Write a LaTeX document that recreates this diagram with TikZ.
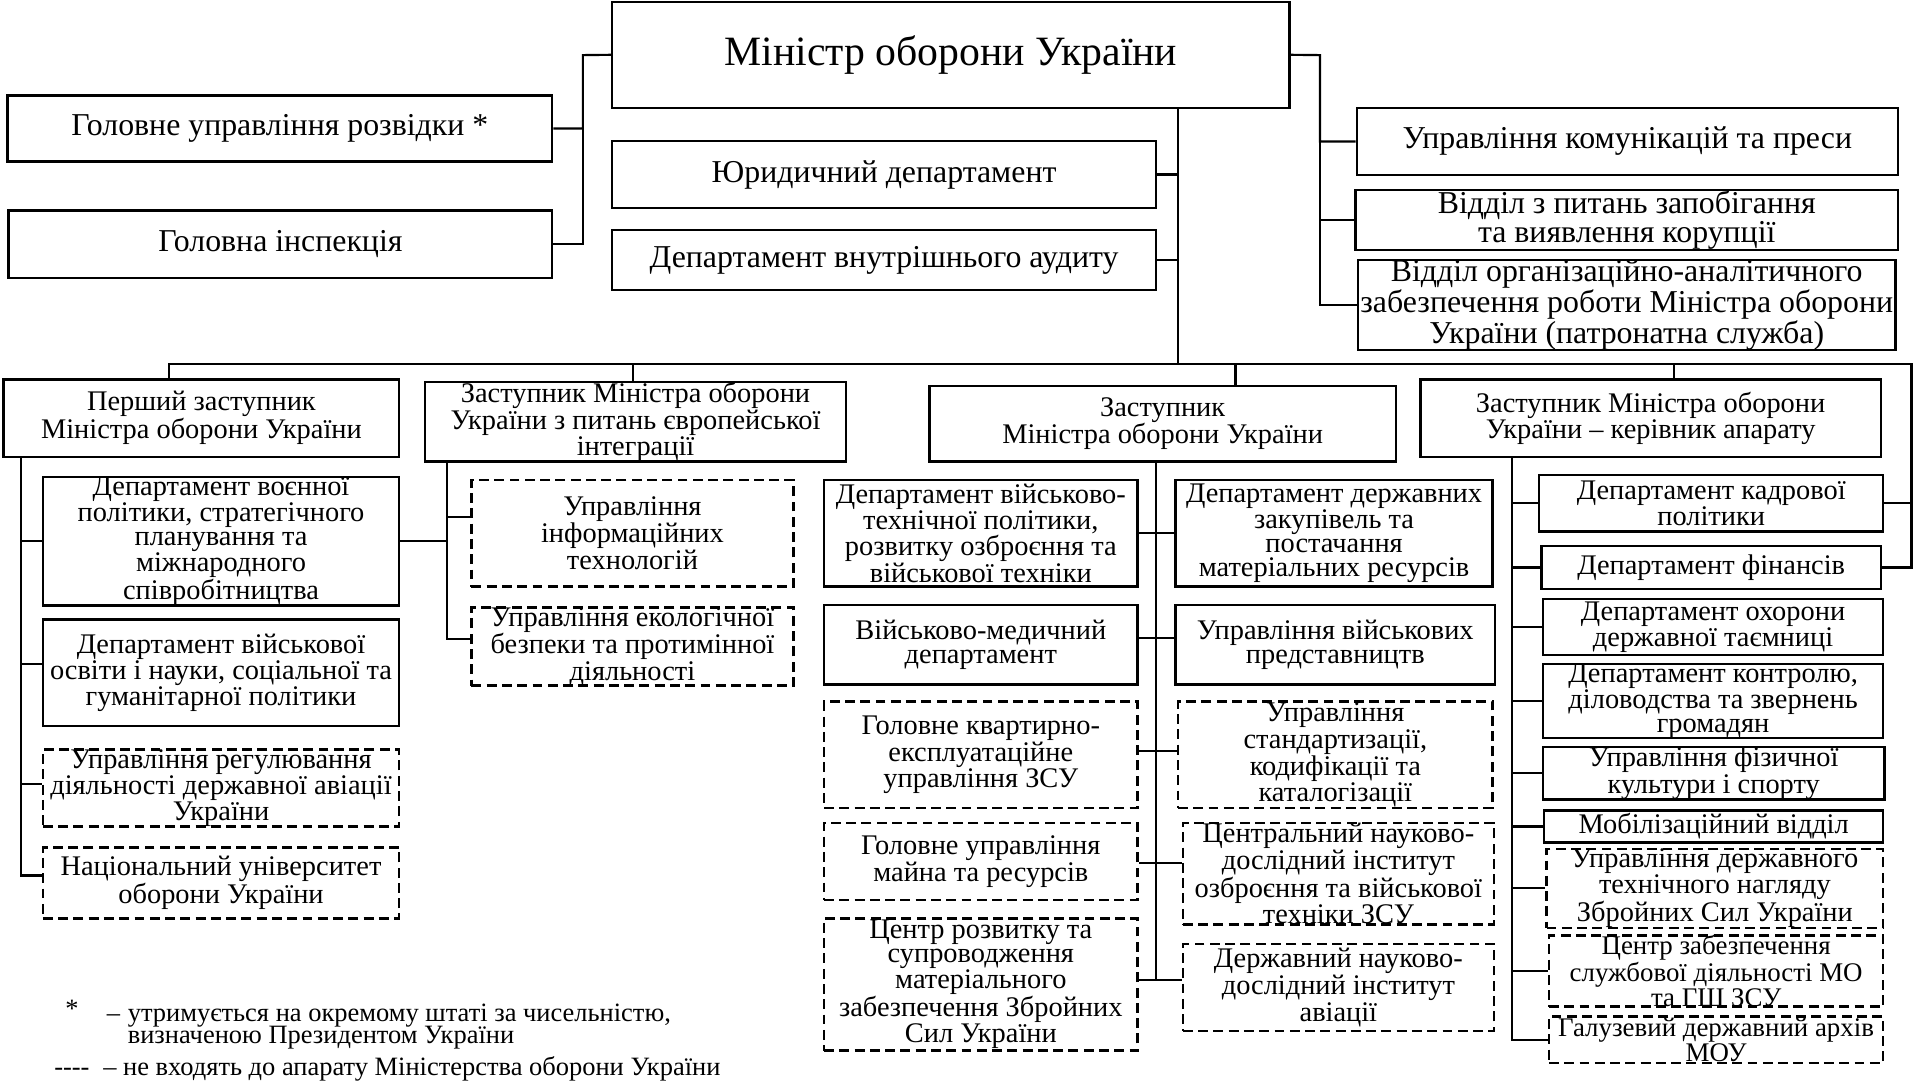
\documentclass[tikz,border=0pt]{standalone}
\usepackage{fontspec}
\setmainfont{Liberation Serif}
\lineskiplimit=0pt
\lineskip=0.6pt
\tikzset{box/.style = {draw, line width=1.1pt, align=center, inner sep=0pt,
                       font=\fontsize{13.2}{11}\selectfont},
         topbox/.style = {box, font=\fontsize{14.8}{12.2}\selectfont},
         dbox/.style = {box, dash pattern=on 4.6pt off 2.5pt},
         small/.style = {font=\fontsize{12.5}{10.5}\selectfont},
         link/.style = {line width=1pt},
         legend/.style = {inner sep=0pt, font=\fontsize{12.3}{10.2}\selectfont}}
% box given by its corners: [style]{name}{x1}{y1}{x2}{y2}{text}
\newcommand{\orgbox}[7][]{%
  \node[box, #1, minimum width={(#5-#3)*0.02cm}, minimum height={(#6-#4)*0.02cm}]
    (#2) at ({(#3+#5)/2}, {(#4+#6)/2}) {#7};}

\begin{document}
\begin{tikzpicture}[x=0.02cm, y=-0.02cm]
    \useasboundingbox (0,0) rectangle (1568,889.3);
    % minister and the units under him
    \orgbox[font=\fontsize{19.4}{22}\selectfont]{min}{500}{1.5}{1053}{88}{Міністр оборони України}
    \orgbox[topbox]{gur}{6}{78}{451}{132}{Головне управління розвідки *}
    \orgbox[topbox]{insp}{7}{172}{451}{227}{Головна інспекція}
    \orgbox[topbox]{jur}{500}{115}{944}{170}{Юридичний департамент}
    \orgbox[topbox]{audit}{500}{188}{944}{237}{Департамент внутрішнього аудиту}
    \orgbox[topbox]{comm}{1108}{88}{1550}{143}{Управління комунікацій та преси}
    \orgbox[topbox]{corr}{1107}{155}{1550}{204}{Відділ з питань запобігання\\та виявлення корупції}
    \orgbox[topbox]{patr}{1109}{213}{1548}{285}{Відділ організаційно-аналітичного\\забезпечення роботи Міністра оборони\\України (патронатна служба)}
    % deputies
    \orgbox{fd}{3}{310}{326}{373}{Перший заступник\\Міністра оборони України}
    \orgbox{eu}{347}{312}{691}{377}{Заступник Міністра оборони\\України з питань європейської\\інтеграції}
    \orgbox{dep}{759}{315}{1140}{377}{Заступник\\Міністра оборони України}
    \orgbox{hos}{1160}{310}{1536}{373}{Заступник Міністра оборони\\України – керівник апарату}
    % first deputy
    \orgbox{fd1}{35}{392}{326}{492}{Департамент воєнної\\політики, стратегічного\\планування та\\міжнародного\\співробітництва}
    \orgbox{fd2}{35}{506}{326}{593}{Департамент військової\\освіти і науки, соціальної та\\гуманітарної політики}
    \orgbox[dbox]{fd3}{35}{614}{326}{673}{Управління регулювання\\діяльності державної авіації\\України}
    \orgbox[dbox]{fd4}{35}{692}{326}{750}{Національний університет\\оборони України}
    % european integration
    \orgbox[dbox]{eu1}{385}{392}{648}{479}{Управління\\інформаційних\\технологій}
    \orgbox[dbox]{eu2}{385}{497}{648}{559}{Управління екологічної\\безпеки та протимінної\\діяльності}
    % deputy, left column
    \orgbox{dl1}{673}{392}{929}{479}{Департамент військово-\\технічної політики,\\розвитку озброєння та\\військової техніки}
    \orgbox{dl2}{673}{494}{929}{559}{Військово-медичний\\департамент}
    \orgbox[dbox]{dl3}{673}{573}{929}{660}{Головне квартирно-\\експлуатаційне\\управління ЗСУ}
    \orgbox[dbox]{dl4}{673}{672}{929}{735}{Головне управління\\майна та ресурсів}
    \orgbox[dbox]{dl5}{673}{750}{929}{858}{Центр розвитку та\\супроводження\\матеріального\\забезпечення Збройних\\Сил України}
    % deputy, right column
    \orgbox{dr1}{960}{392}{1219}{479}{Департамент державних\\закупівель та\\постачання\\матеріальних ресурсів}
    \orgbox{dr2}{960}{494}{1221}{559}{Управління військових\\представництв}
    \orgbox[dbox]{dr3}{962}{573}{1219}{660}{Управління\\стандартизації,\\кодифікації та\\каталогізації}
    \orgbox[dbox]{dr4}{966}{672}{1220}{755}{Центральний науково-\\дослідний інститут\\озброєння та військової\\техніки ЗСУ}
    \orgbox[dbox]{dr5}{966}{771}{1220}{842}{Державний науково-\\дослідний інститут\\авіації}
    % head of staff
    \orgbox{h1}{1257}{388}{1538}{434}{Департамент кадрової\\політики}
    \orgbox{h2}{1259}{446}{1536}{481}{Департамент фінансів}
    \orgbox{h3}{1260}{489}{1538}{535}{Департамент охорони\\державної таємниці}
    \orgbox{h4}{1260}{543}{1538}{602}{Департамент контролю,\\діловодства та звернень\\громадян}
    \orgbox{h5}{1260}{610}{1539}{653}{Управління фізичної\\культури і спорту}
    \orgbox{h6}{1261}{662}{1538}{688}{Мобілізаційний відділ}
    \orgbox[dbox]{h7}{1263}{696}{1538}{755}{Управління державного\\технічного нагляду\\Збройних Сил України}
    \orgbox[dbox,small]{h8}{1265}{764}{1538}{822}{Центр забезпечення\\службової діяльності МО\\та ГШ ЗСУ}
    \orgbox[dbox,small]{h9}{1265}{830}{1538}{868}{Галузевий державний архів\\МОУ}

    % connectors of the minister
    \coordinate (lbus) at (476,45);
    \coordinate (rbus) at (1078,45);
    \draw [link] (min.west) -- (lbus) |- (gur.east);
    \draw [link] (lbus) |- (insp.east);
    \draw [link] (min.east) -- (rbus) |- (comm.west);
    \draw [link] (rbus) |- (corr.west);
    \draw [link] (rbus) |- (patr.west);
    \coordinate (ctop) at (962,88);
    \coordinate (busL) at (138,297);
    \coordinate (busR) at (1561,297);
    \draw [link] (ctop) -- (ctop |- busL);
    \draw [link] (jur.east) -- (jur.east -| ctop);
    \draw [link] (audit.east) -- (audit.east -| ctop);
    % bus to the deputies
    \draw [link] (busL |- fd.north) -- (busL) -- (busR) |- (h2.east);
    \draw [link] (busR |- h1.east) -- (h1.east);
    \foreach \x/\n in {517/eu, 1009/dep, 1367/hos} {
      \coordinate (tap) at (\x,297);
      \draw [link] (tap) -- (tap |- \n.north);
    }
    % first deputy and european integration
    \coordinate (fdk) at (17,373);
    \coordinate (euk) at (365,377);
    \foreach \n/\y in {1/442, 2/542, 3/640, 4/715} {
      \coordinate (row) at (17,\y);
      \draw [link] (fdk) -- (row) -- (row -| fd\n.west);
    }
    \draw [link] (fd1.east) -- (fd1.east -| euk);
    \foreach \n/\y in {1/422, 2/522} {
      \coordinate (row) at (365,\y);
      \draw [link] (euk) -- (row) -- (row -| eu\n.west);
    }
    % deputy
    \coordinate (depk) at (944,377);
    \foreach \n/\y in {1/435, 2/521, 3/613, 4/705, 5/800} {
      \coordinate (row) at (944,\y);
      \draw [link] (depk) -- (row);
      \draw [link] (row -| dl\n.east) -- (row -| dr\n.west);
    }
    % head of staff
    \coordinate (hosk) at (1235,373);
    \foreach \n in {1,...,9}
      \draw [link] (hosk) |- (h\n.west);

    % legend
    \node [legend, anchor=base west] (star) at (53,831) {*};
    \node [legend, anchor=base west] (dash1) at (87,834) {–};
    \node [legend, anchor=base west] (note1a) at (104,834) {утримується на окремому штаті за чисельністю,};
    \node [legend, anchor=base west] (note1b) at (104,852) {визначеною Президентом України};
    \node [legend, anchor=base west] (dashes) at (44,878) {-\kern0pt-\kern0pt-\kern0pt-};
    \node [legend, anchor=base west] (note2) at (84,878) {– не входять до апарату Міністерства оборони України};
\end{tikzpicture}
\end{document}
